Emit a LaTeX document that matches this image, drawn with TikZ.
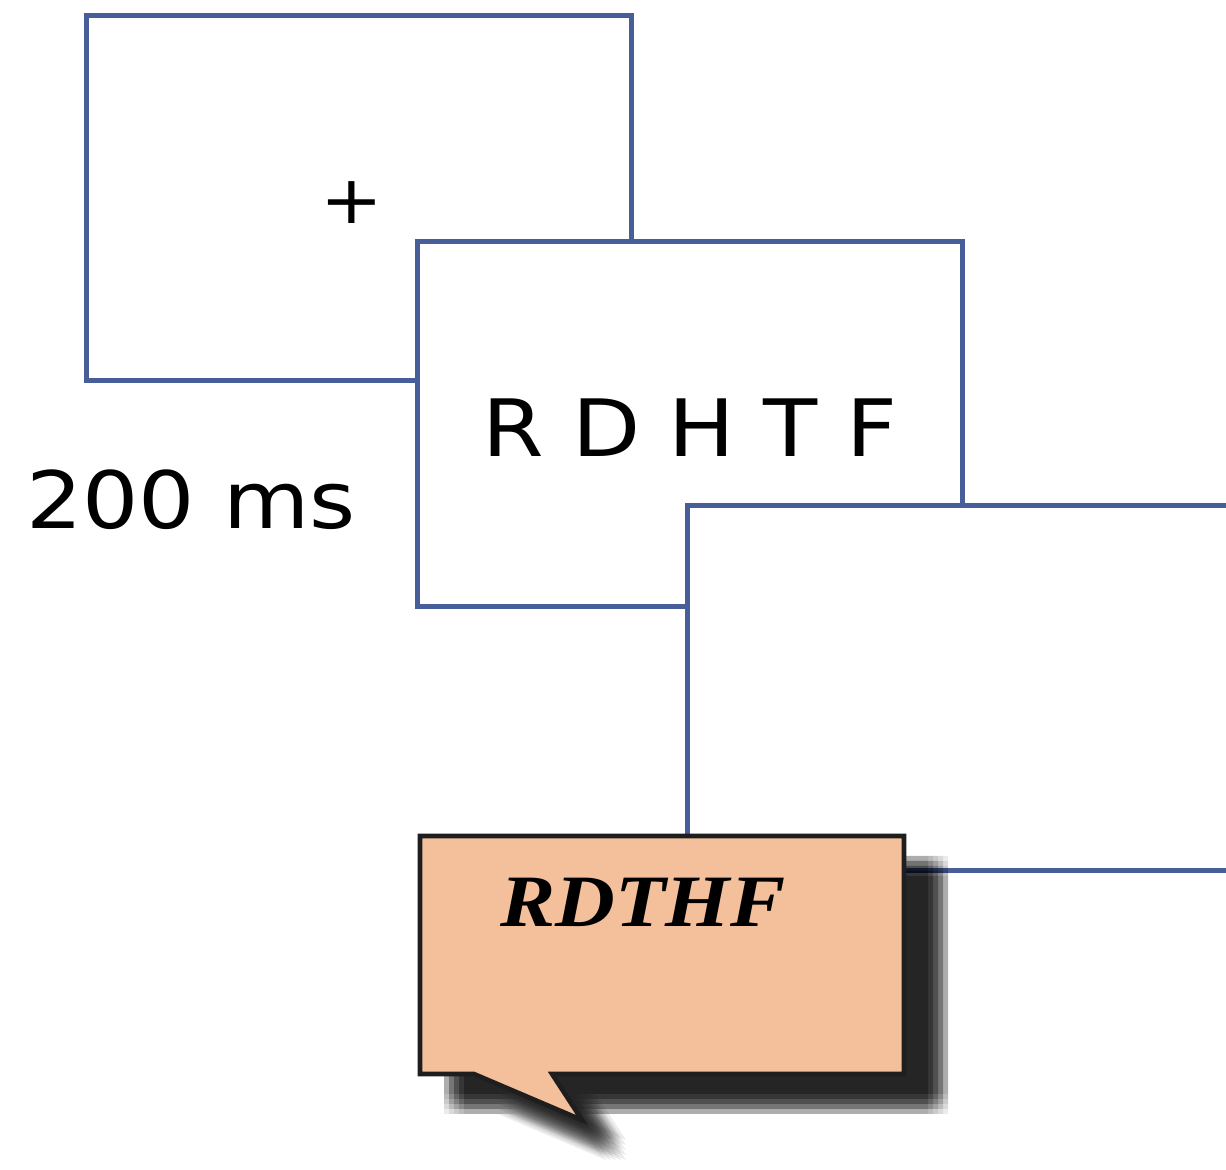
\documentclass[tikz,border=0pt]{standalone}
\usepackage{fontspec}
\newfontfamily\stimfont[FakeStretch=1.12]{DejaVu Sans}
\newfontfamily\respfont[FakeStretch=1.12]{Liberation Serif}
\definecolor{frameblue}{RGB}{72,94,152}
\definecolor{bubblefill}{RGB}{244,192,156}
\definecolor{bubbleline}{RGB}{30,30,30}

\begin{document}
\begin{tikzpicture}[x=0.01cm,y=-0.01cm,
  screen/.style={draw=frameblue,line width=1.4pt,fill=white,minimum width=5.45cm,minimum height=3.65cm,inner sep=0pt},
  stim/.style={font=\stimfont\fontsize{22.5}{26}\selectfont,inner sep=0pt}]
  \useasboundingbox (0,0) rectangle (1226,1170);
  \clip (0,0) rectangle (1226,1170);
  % the three screens
  \node[screen] (fix) at (359,198) {};
  \node[stim,font=\stimfont\fontsize{19}{22}\selectfont] (cross) at (352,203) {+};
  \node[screen] (array) at (690,424) {};
  \node[stim] (letters) at (690,428) {R D H T F};
  \node[screen] (blank) at (960,688) {};
  \node[stim] (dur) at (191,500) {200 ms};
  % response bubble with its shadow
  \foreach \dx in {24,29,34,39,44}
    \foreach \dy in {20,25,30,35,40}
      \fill[black,opacity=0.075,shift={(\dx,\dy)}]
        (420,836) -- (904,836) -- (904,1074) -- (552,1074) -- (582,1120) -- (474,1074) -- (420,1074) -- cycle;
  \draw[bubbleline,fill=bubblefill,line width=1.3pt,line join=miter]
    (420,836) -- (904,836) -- (904,1074) -- (552,1074) -- (582,1120) -- (474,1074) -- (420,1074) -- cycle;
  \node[font=\respfont\bfseries\itshape\fontsize{21}{24}\selectfont,inner sep=0pt] (resp) at (643,902) {RDTHF};
\end{tikzpicture}
\end{document}
